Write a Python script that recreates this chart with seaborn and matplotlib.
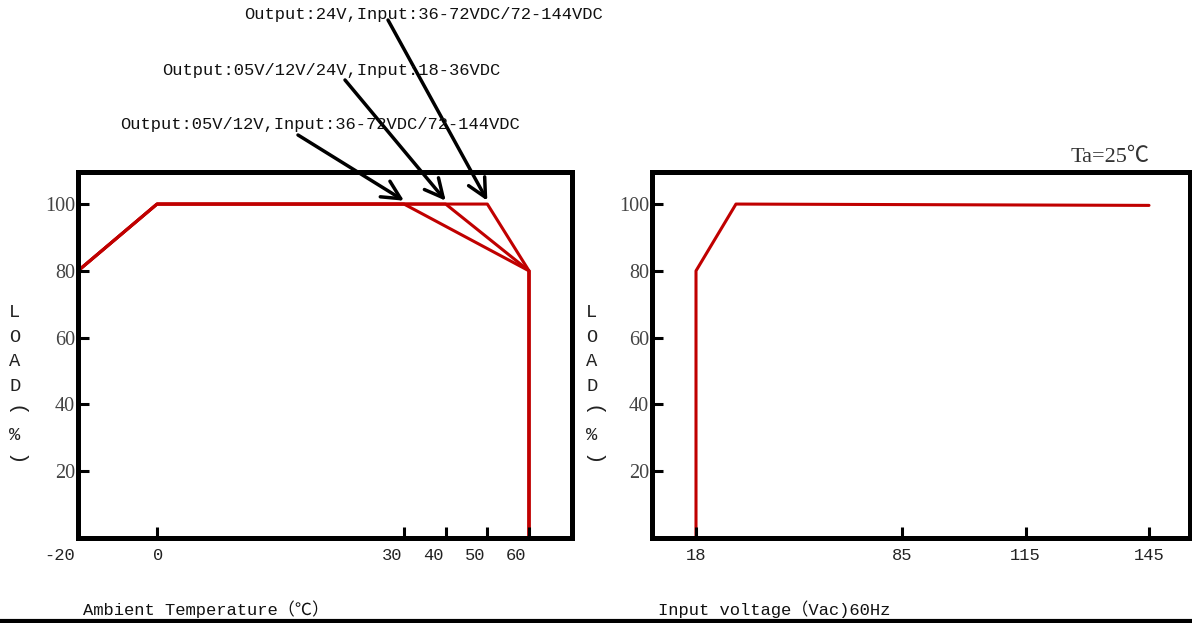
import numpy as np
import pandas as pd
import matplotlib
matplotlib.use("Agg")
import matplotlib.pyplot as plt
import matplotlib.transforms as mtransforms
from matplotlib.lines import Line2D
import seaborn as sns

# 温度降额曲线（三条）
curve_names = ["Output:05V/12V", "Output:05V/12V/24V", "Output:24V"]
temp_30 = [-20, 0, 30, 60, 60]
temp_40 = [-20, 0, 40, 60, 60]
temp_50 = [-20, 0, 50, 60, 60]
load_temp = [80, 100, 100, 80, 0]

# 输入电压曲线
volt_x = [18, 18, 31, 145]
volt_load = [0, 80, 100, 99.6]

temp_ticks = [-20, 0, 30, 40, 50, 60]
volt_ticks = [18, 85, 115, 145]
load_ticks = [20, 40, 60, 80, 100]

notes = [
    "Output:05V/12V,Input:36-72VDC/72-144VDC",
    "Output:05V/12V/24V,Input:18-36VDC",
    "Output:24V,Input:36-72VDC/72-144VDC",
]
note_targets = [30, 40, 50]

RED = "#C00000"
MONO = ["Liberation Mono", "Noto Sans CJK SC"]
SERIF = ["Liberation Serif", "Noto Sans CJK SC"]

sns.set_style("white")
plt.rcParams["font.family"] = MONO

df_temp = pd.DataFrame({
    "temp": temp_30 + temp_40 + temp_50,
    "load": load_temp * 3,
    "curve": [c for c in curve_names for _ in range(len(load_temp))],
})
df_volt = pd.DataFrame({"volt": volt_x, "load": volt_load})


def piecewise(vals, pos):
    vals = np.asarray(vals, float)
    pos = np.asarray(pos, float)
    return (lambda x: np.interp(x, vals, pos)), (lambda p: np.interp(p, pos, vals))


fig = plt.figure(figsize=(11.92, 6.23), dpi=100)
ax1 = fig.add_axes([78 / 1192, 85 / 623, 494 / 1192, 366 / 623])
ax2 = fig.add_axes([652 / 1192, 85 / 623, 538 / 1192, 366 / 623])

sns.lineplot(data=df_temp, x="temp", y="load", units="curve", estimator=None,
             sort=False, color=RED, lw=2.2, ax=ax1, legend=False)
sns.lineplot(data=df_volt, x="volt", y="load", estimator=None, sort=False,
             color=RED, lw=2.2, ax=ax2, legend=False)

# 非线性横轴刻度
ax1.set_xscale("function", functions=piecewise([-40, -20, 0, 30, 60, 70, 90],
                                               [-1, 78, 157, 404, 529, 572, 658]))
ax2.set_xscale("function", functions=piecewise([-10, 4, 18, 85, 145, 155, 200],
                                               [609, 652, 696, 902, 1149, 1190, 1375]))
ax1.set_xlim(-20, 70)
ax2.set_xlim(4, 155)

for ax, ticks, lx in [(ax1, temp_ticks, -63 / 494), (ax2, volt_ticks, -60 / 538)]:
    ax.set_axisbelow(False)
    ax.set_ylim(0, 109.6)
    ax.set_xticks(ticks)
    ax.set_xticklabels([str(t) for t in ticks])
    ax.set_yticks(load_ticks)
    ax.set_yticklabels([str(t) for t in load_ticks])
    ax.xaxis.set_minor_locator(matplotlib.ticker.NullLocator())
    ax.tick_params(axis="both", direction="in", length=8, width=2.2, color="black",
                   bottom=True, left=True, top=False, right=False)
    ax.tick_params(axis="x", pad=7, labelsize=12.3, labelcolor="#222222")
    ax.tick_params(axis="y", pad=2, labelsize=14.5, labelcolor="#444444")
    for lab in ax.get_yticklabels():
        lab.set_family(SERIF)
    for sp in ax.spines.values():
        sp.set_visible(True)
        sp.set_linewidth(3.6)
        sp.set_color("black")
    ax.set_ylabel("")
    # 竖排 LOAD（%）
    for i, ch in enumerate("LOAD(%)"):
        rot = -90 if ch in "()" else 0
        ax.text(lx, 0.615 - i * 0.067, ch, transform=ax.transAxes, ha="center",
                va="center", fontsize=13.5 if rot == 0 else 15, rotation=rot,
                color="#222222")

ax1.set_xlabel("Ambient Temperature（℃）", fontsize=12.3, color="#111111", ha="left", va="center")
ax1.xaxis.set_label_coords(5 / 494, -71 / 366)
ax2.set_xlabel("Input voltage（Vac)60Hz", fontsize=12.3, color="#111111", ha="left", va="center")
ax2.xaxis.set_label_coords(6 / 538, -71 / 366)

ax2.text(1110 / 1192, 1 - 158 / 623, "Ta=25℃", transform=fig.transFigure,
         ha="center", va="center", fontsize=16, color="#333333", family=SERIF)

# 左图刻度标签偏移
for lab, dx in zip(ax1.get_xticklabels(), [-18, 1, -12, -12, -12, -13]):
    lab.set_transform(lab.get_transform()
                      + mtransforms.ScaledTranslation(dx / 100, 0, fig.dpi_scale_trans))

# 注释文字与箭头
note_pos = [(120, 124), (162, 71), (244, 15)]
tail_pos = [(298, 135), (345, 80), (388, 20)]
for text, (px, py), (tx, ty), tgt in zip(notes, note_pos, tail_pos, note_targets):
    fig.text(px / 1192, 1 - py / 623, text, ha="left", va="center",
             fontsize=12.3, color="#111111")
    ax1.annotate("", xy=(tgt, 101), xycoords="data",
                 xytext=(tx / 1192, 1 - ty / 623), textcoords="figure fraction",
                 arrowprops=dict(arrowstyle="->,head_length=0.6,head_width=0.3",
                                 color="black", lw=2.5,
                                 mutation_scale=22, shrinkA=0, shrinkB=0),
                 zorder=5, annotation_clip=False)

fig.add_artist(Line2D([0, 1], [0.004, 0.004], transform=fig.transFigure,
                      color="black", lw=3))

plt.savefig("out.png", dpi=100)
